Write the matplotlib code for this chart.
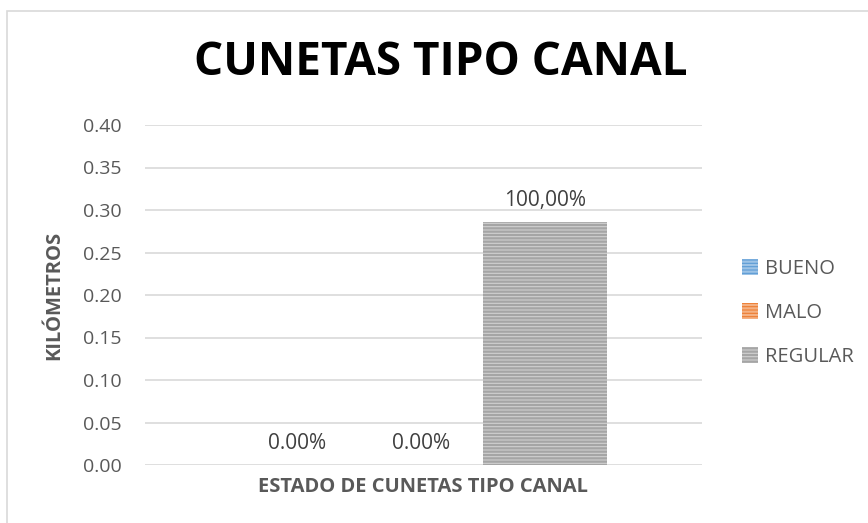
import matplotlib
matplotlib.use("Agg")
import matplotlib.pyplot as plt
from matplotlib.patches import Rectangle, Patch

categories = ["BUENO", "MALO", "REGULAR"]
values = [0.0, 0.0, 0.286]
labels = ["0.00%", "0.00%", "100,00%"]
yticks = [0.00, 0.05, 0.10, 0.15, 0.20, 0.25, 0.30, 0.35, 0.40]

face = ["#5b9bd5", "#ed7d31", "#d0d0d0"]
hatchc = ["#9dc3e6", "#f4b183", "#a5a5a5"]

plt.rcParams['font.family'] = ['Open Sans', 'DejaVu Sans']
plt.rcParams['hatch.linewidth'] = 1.6

fig = plt.figure(figsize=(8.68, 5.23), dpi=100)
ax = fig.add_axes([145/868, 1-465/523, (702-145)/868, (465-125)/523])

for i, (c, v) in enumerate(zip(categories, values)):
    ax.bar(i, v, width=1.0, facecolor=face[i], edgecolor=hatchc[i], hatch='-----',
           linewidth=0, label=c, zorder=3)
    ax.annotate(labels[i], (i, v), xytext=(0, 11.5), textcoords='offset points',
                ha='center', va='baseline', fontsize=15, color='#404040')

ax.set_xlim(-1.226, 3.266)
ax.set_ylim(0, 0.40)
ax.set_yticks(yticks)
ax.set_yticklabels([f"{t:.2f}" for t in yticks], fontsize=14, color='#595959')
ax.set_xticks([])
ax.tick_params(axis='y', length=0, pad=17)
ax.grid(axis='y', color='#d9d9d9', linewidth=1.2, zorder=0)
for s in ax.spines.values():
    s.set_visible(False)

ax.set_xlabel("ESTADO DE CUNETAS TIPO CANAL", fontsize=14.5, fontweight='bold', color='#595959', labelpad=9)
ax.set_ylabel("KILÓMETROS", fontsize=14.5, fontweight='bold', color='#595959', labelpad=13)

fig.text(441/868, 1-62/523, "CUNETAS TIPO CANAL", ha='center', va='center',
         fontsize=33, fontweight='bold', color='black')

handles = [Patch(facecolor=face[i], edgecolor=hatchc[i], hatch='-----', linewidth=0) for i in range(3)]
leg = fig.legend(handles, categories, loc='center left', bbox_to_anchor=(724/868, 1-313/523),
                 frameon=False, fontsize=14.5, labelspacing=1.2, handlelength=0.8, handleheight=0.8,
                 handletextpad=0.35, labelcolor='#595959')

fig.patches.append(Rectangle((7/868, -0.1), 1.2, 1-11/523+0.1, transform=fig.transFigure,
                             fill=False, edgecolor='#d9d9d9', linewidth=1.2))

fig.savefig("out.png", dpi=100, facecolor='white')
